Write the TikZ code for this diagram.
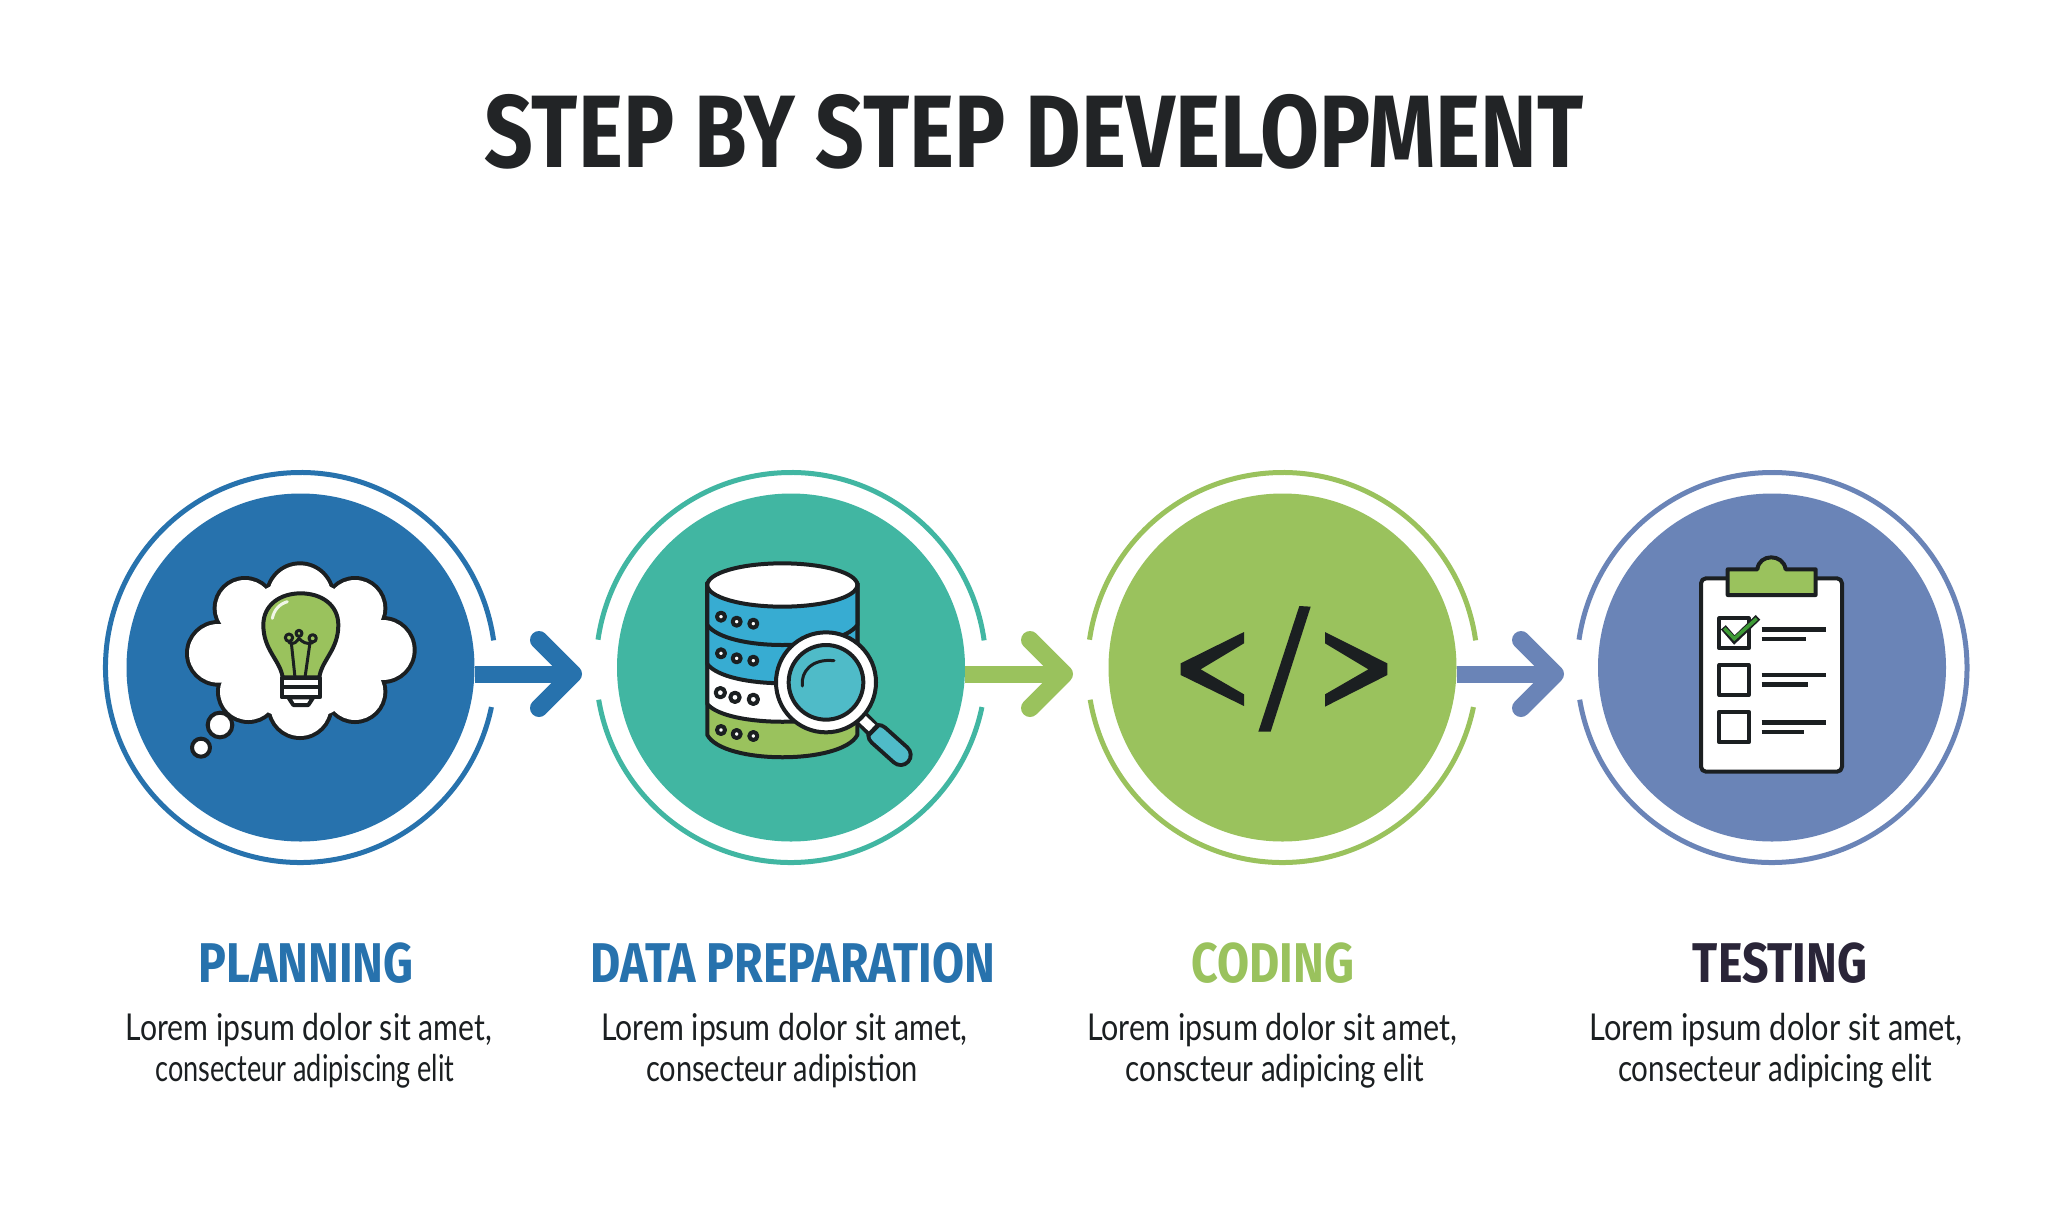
\documentclass[tikz,border=0pt]{standalone}
\usepackage{fontspec}
\setmainfont{Liberation Sans}
\newfontfamily\headfont[FakeStretch=0.83]{Fira Sans}
\newfontfamily\bodyfont[FakeStretch=0.80]{Lato}
\definecolor{cblue}{HTML}{2772AD}
\definecolor{cteal}{HTML}{41B6A2}
\definecolor{cgreen}{HTML}{9AC25D}
\definecolor{cslate}{HTML}{6A84B7}
\definecolor{cink}{HTML}{1B1F21}
\definecolor{ctitle}{HTML}{222426}
\definecolor{ctest}{HTML}{2A2538}
\definecolor{cdb}{HTML}{37ACD2}
\definecolor{cglass}{HTML}{4FBBC8}
\definecolor{ccheck}{HTML}{3E9B36}
\tikzset{
  disc/.style={circle,minimum size=348pt,inner sep=0pt,draw=none},
  ringline/.style={line width=5pt},
  shaft/.style={line width=17pt},
  chevron/.style={line width=18pt,line cap=round,line join=round},
  titletext/.style={anchor=base,inner sep=0pt,text=ctitle,font=\headfont\bfseries\fontsize{103}{110}\selectfont},
  headtext/.style={anchor=base,inner sep=0pt,font=\headfont\bfseries\fontsize{56}{60}\selectfont},
  bodytext/.style={anchor=base,inner sep=0pt,text=cink,font=\bodyfont\fontsize{37}{41}\selectfont},
  icon/.style={draw=cink,line width=4pt,line join=round},
  cloudedge/.style={draw=cink,line width=8pt},
  thin icon/.style={draw=cink,line width=3pt,line join=round,line cap=round},
  barline/.style={draw=cink,line width=4.5pt},
  zoomA/.style={shift={(90,-450)},x=0.33333pt,y=-0.33333pt},
  zoomB/.style={shift={(580,-450)},x=0.33333pt,y=-0.33333pt},
  zoomC/.style={shift={(1070,-450)},x=0.33333pt,y=-0.33333pt},
  zoomD/.style={shift={(1560,-450)},x=0.33333pt,y=-0.33333pt},
}
\begin{document}
\begin{tikzpicture}[x=1pt,y=1pt]
\useasboundingbox (0,0) rectangle (2048,-1208);
\fill[white] (0,0) rectangle (2048,-1208);

% discs
\node[disc,fill=cblue]  (d1) at (300.5,-667.5) {};
\node[disc,fill=cteal]  (d2) at (791,-667.5) {};
\node[disc,fill=cgreen] (d3) at (1282.5,-667.5) {};
\node[disc,fill=cslate] (d4) at (1772,-667.5) {};

% rings
\draw[ringline,cblue] ([shift={(8:195)}]d1.center) arc (8:348.3:195);
\draw[ringline,cteal] ([shift={(8:195)}]d2.center) arc (8:171.8:195);
\draw[ringline,cteal] ([shift={(189.5:195)}]d2.center) arc (189.5:348.3:195);
\draw[ringline,cgreen] ([shift={(8:195)}]d3.center) arc (8:171.8:195);
\draw[ringline,cgreen] ([shift={(189.5:195)}]d3.center) arc (189.5:348.3:195);
\draw[ringline,cslate] ([shift={(189.5:195)}]d4.center) arc (189.5:531.8:195);

% connectors
\coordinate (tipA) at (573,-674);
\coordinate (tipB) at (1064,-674);
\coordinate (tipC) at (1555,-674);
\draw[shaft,cblue] (d1.east |- tipA) -- (tipA);
\draw[chevron,cblue] (tipA) ++(-34,34) -- (tipA) -- ++(-34,-34);
\draw[shaft,cgreen] (d2.east |- tipB) -- (tipB);
\draw[chevron,cgreen] (tipB) ++(-34,34) -- (tipB) -- ++(-34,-34);
\draw[shaft,cslate] (d3.east |- tipC) -- (tipC);
\draw[chevron,cslate] (tipC) ++(-34,34) -- (tipC) -- ++(-34,-34);

% icon 1: thought cloud and bulb
\begin{scope}[zoomA]
  \foreach \cx/\cy/\cr in {630/440/94,465/475/85,795/475/85,385/610/88,878/600/90,475/725/85,795/725/85,630/770/88}
    \draw[cloudedge] (\cx,\cy) circle[radius=\cr];
  \foreach \cx/\cy/\cr in {630/440/94,465/475/85,795/475/85,385/610/88,878/600/90,475/725/85,795/725/85,630/770/88,630/600/210}
    \fill[white] (\cx,\cy) circle[radius=\cr];
  \draw[icon,fill=white] (390,825) circle[radius=37];
  \draw[icon,fill=white] (333,893) circle[radius=27];
  \draw[icon,fill=cgreen] (578,682) .. controls (570,630) and (520,600) .. (520,525)
     .. controls (520,465) and (570,430) .. (632,430)
     .. controls (695,430) and (745,465) .. (745,525)
     .. controls (745,600) and (695,630) .. (688,682) -- cycle;
  \draw[white!85!cgreen,line width=3pt,line cap=round] (547,505) .. controls (552,480) and (568,462) .. (592,455);
  \draw[thin icon] (604,578) -- (615,682) (660,578) -- (645,682);
  \draw[thin icon] (597,578) .. controls (612,585) and (620,575) .. (627,565) .. controls (635,575) and (650,585) .. (668,578);
  \draw[thin icon,fill=cgreen] (597,563) circle[radius=11] (627,550) circle[radius=9] (668,565) circle[radius=11];
  \draw[icon,fill=white] (575,684) rectangle (690,742);
  \draw[icon] (575,711) -- (690,711);
  \draw[icon,fill=white] (595,742) -- (670,742) -- (655,765) -- (610,765) -- cycle;
\end{scope}

% icon 2: database with magnifier
\begin{scope}[zoomB]
  \draw[icon,fill=cgreen] (382,400) -- (382,855) .. controls (430,944) and (785,944) .. (832,855) -- (832,400) -- cycle;
  \draw[icon,fill=white] (382,400) -- (382,762) .. controls (440,833) and (775,833) .. (832,762) -- (832,400) -- cycle;
  \draw[icon,fill=cdb] (382,400) -- (382,642) .. controls (440,719) and (775,719) .. (832,642) -- (832,400) -- cycle;
  \draw[icon,fill=cdb] (382,400) -- (382,525) .. controls (440,605) and (775,605) .. (832,525) -- (832,400) -- cycle;
  \draw[icon,fill=white] (607,405) ellipse[x radius=225,y radius=65];
  \foreach \cx/\cy/\cr in {423/500/12,470/515/12,520/521/12,423/610/12,470/625/12,520/632/12,421/728/14,465/742/14,520/748/14,423/840/12,470/852/12,520/858/12}
    \draw[icon,fill=white] (\cx,\cy) circle[radius=\cr];
  \draw[cink,line width=24pt,line cap=round] (895,855) -- (962,915);
  \draw[cglass,line width=16pt,line cap=round] (895,855) -- (962,915);
  \draw[cink,line width=16pt] (835,795) -- (885,845);
  \draw[white,line width=9pt] (845,805) -- (876,834);
  \draw[icon,fill=white] (738,697) circle[radius=150];
  \draw[icon,fill=cglass] (738,697) circle[radius=112];
  \draw[thin icon] (667,708) .. controls (662,665) and (695,625) .. (762,632);
\end{scope}

% icon 3: code brackets
\begin{scope}[zoomC]
  \fill[cink] (522,546) -- (522,580) -- (392,658) -- (522,733) -- (522,768) -- (332,675) -- (332,640) -- cycle;
  \fill[cink] (688,468) -- (722,470) -- (602,845) -- (565,845) -- cycle;
  \fill[cink] (765,546) -- (765,580) -- (895,658) -- (765,733) -- (765,770) -- (952,675) -- (952,640) -- cycle;
\end{scope}

% icon 4: clipboard
\begin{scope}[zoomD]
  \draw[icon,fill=white,rounded corners=5pt] (423,385) rectangle (846,965);
  \draw[icon,fill=cgreen] (503,435) -- (503,358) -- (592,358) .. controls (597,310) and (670,310) .. (677,358) -- (767,358) -- (767,435) -- cycle;
  \draw[icon] (478,505) rectangle (566,595);
  \draw[icon] (478,645) rectangle (566,735);
  \draw[icon] (478,785) rectangle (566,877);
  \draw[barline] (605,538) -- (798,538);
  \draw[barline] (605,567) -- (738,567);
  \draw[barline] (605,675) -- (798,675);
  \draw[barline] (605,704) -- (743,704);
  \draw[barline] (605,817) -- (798,817);
  \draw[barline] (605,846) -- (732,846);
  \draw[cink,line width=6.5pt,miter limit=10] (490,532) -- (523,570) -- (594,502);
  \draw[ccheck,line width=3.5pt,miter limit=10] (493,535) -- (523,566) -- (590,506);
\end{scope}

% texts
\node[titletext] (title) at (1034,-167) {STEP BY STEP DEVELOPMENT};
\node[headtext,text=cblue]  (h1) at (306,-982) {PLANNING};
\node[headtext,text=cblue]  (h2) at (793,-982) {DATA PREPARATION};
\node[headtext,text=cgreen] (h3) at (1273,-982) {CODING};
\node[headtext,text=ctest]  (h4) at (1780,-982) {TESTING};
\node[bodytext] (a1) at (309,-1040) {\scalebox{1.02}[1]{Lorem ipsum dolor sit amet,}};
\node[bodytext] (b1) at (305,-1081) {\scalebox{0.915}[1]{consecteur adipiscing elit}};
\node[bodytext] (a2) at (784.5,-1040) {\scalebox{1.02}[1]{Lorem ipsum dolor sit amet,}};
\node[bodytext] (b2) at (782,-1081) {\scalebox{0.98}[1]{consecteur adipistion}};
\node[bodytext] (a3) at (1272,-1040) {\scalebox{1.03}[1]{Lorem ipsum dolor sit amet,}};
\node[bodytext] (b3) at (1275,-1081) {conscteur adipicing elit};
\node[bodytext] (a4) at (1776,-1040) {\scalebox{1.04}[1]{Lorem ipsum dolor sit amet,}};
\node[bodytext] (b4) at (1775,-1081) {consecteur adipicing elit};
\end{tikzpicture}
\end{document}
